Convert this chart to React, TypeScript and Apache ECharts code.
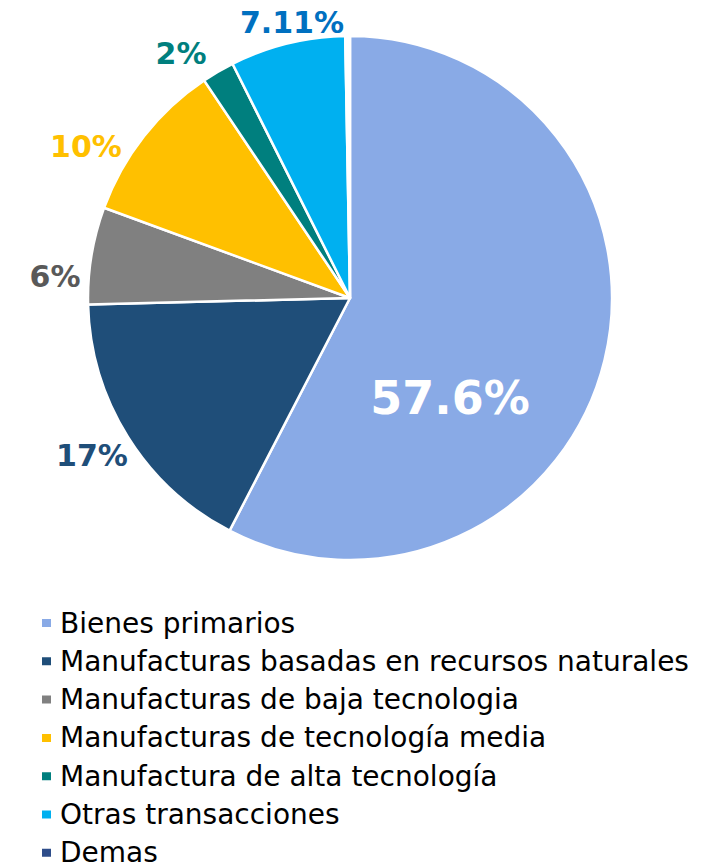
import React, { useEffect, useRef } from "react";
import * as echarts from "echarts";

const categories = [
  "Bienes primarios",
  "Manufacturas basadas en recursos naturales",
  "Manufacturas de baja tecnologia",
  "Manufacturas de tecnología media",
  "Manufactura de alta tecnología",
  "Otras transacciones",
  "Demas",
];
const values = [57.6, 17, 6, 10, 2, 7.11, 0.29];
const labelTexts = ["57.6%", "17%", "6%", "10%", "2%", "7.11%", ""];

const sliceColors = ["#89AAE6", "#1F4E79", "#808080", "#FFC000", "#007F7E", "#00B0F0", "#FFFFFF"];
const legendColors = ["#89AAE6", "#1F4E79", "#808080", "#FFC000", "#007F7E", "#00B0F0", "#2E4D8A"];
const labelColors = ["#FFFFFF", "#1F4E79", "#595959", "#FFC000", "#007F7E", "#0070C0", "#000"];

const CX = 350;
const CY = 298;
const R = 262;
// label centre offsets from pie centre (layout only)
const labelOffsets = [
  [100, 100],
  [-258, 157],
  [-295, -22],
  [-264, -152],
  [-169, -245],
  [-58, -276],
  [0, 0],
];

export default function App() {
  const ref = useRef<HTMLDivElement>(null);
  useEffect(() => {
    document.body.style.margin = "0";
    const chart = echarts.init(ref.current!, undefined, { renderer: "svg" });
    const font = "'DejaVu Sans', Verdana, sans-serif";
    chart.setOption({
      animation: false,
      legend: {
        orient: "vertical",
        left: 40,
        top: 608,
        padding: 0,
        itemWidth: 11,
        itemHeight: 10,
        itemGap: 8.3,
        icon: "rect",
        selectedMode: false,
        textStyle: { fontFamily: font, fontSize: 28, color: "#000", lineHeight: 30, padding: [0, 0, 0, 3] },
        data: categories.map((c, i) => ({ name: c, itemStyle: { color: legendColors[i] } })),
      },
      series: [
        {
          type: "pie",
          center: [CX, CY],
          radius: [0, R],
          startAngle: 90,
          clockwise: true,
          avoidLabelOverlap: false,
          silent: true,
          emphasis: { disabled: true },
          itemStyle: { borderColor: "#fff", borderWidth: 2.5 },
          labelLine: { show: false },
          label: { position: "outside" },
          labelLayout: (p: any) => {
            const o = labelOffsets[p.dataIndex];
            return { x: CX + o[0], y: CY + o[1], align: "center", verticalAlign: "middle" };
          },
          data: categories.map((c, i) => ({
            name: c,
            value: values[i],
            itemStyle: { color: sliceColors[i] },
            label: {
              show: labelTexts[i] !== "",
              formatter: labelTexts[i],
              color: labelColors[i],
              fontFamily: font,
              fontWeight: "bold",
              fontSize: i === 0 ? 46 : 30,
            },
          })),
        },
      ],
    });
    return () => chart.dispose();
  }, []);
  return <div ref={ref} style={{ width: 705, height: 868 }} />;
}
